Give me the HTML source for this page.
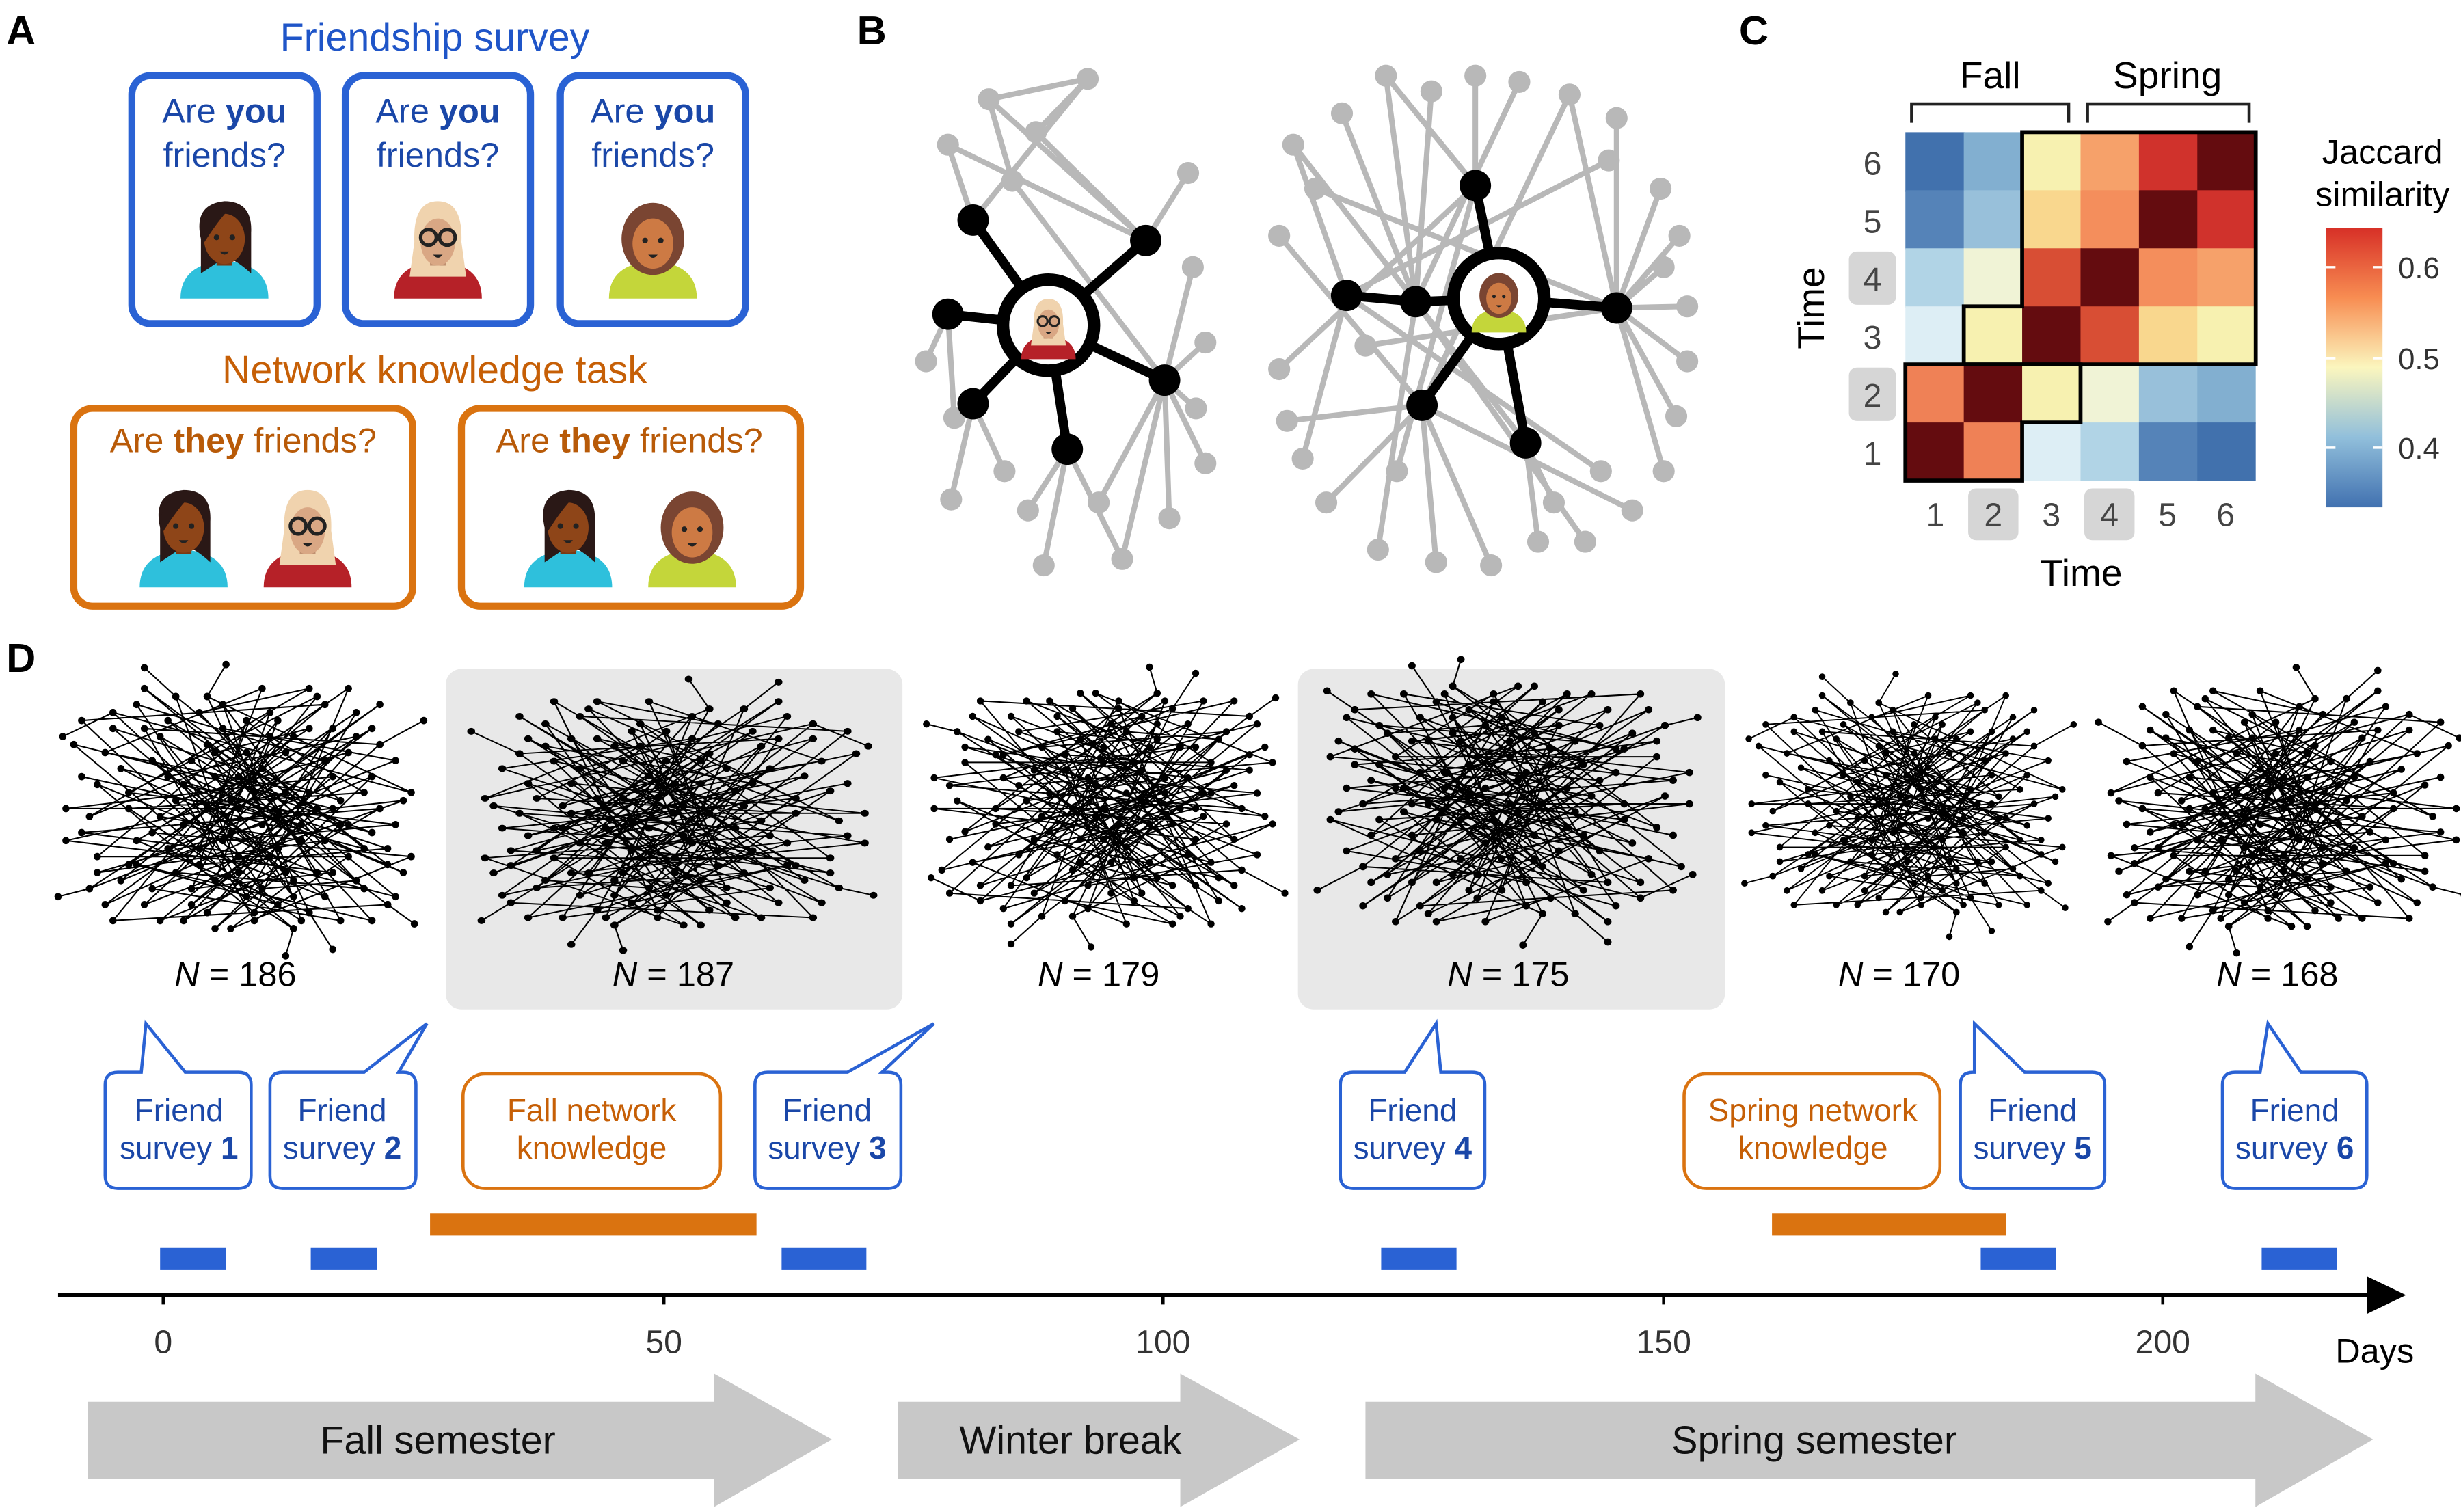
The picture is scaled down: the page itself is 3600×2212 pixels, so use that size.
<!DOCTYPE html>
<html><head><meta charset="utf-8">
<style>
html,body{margin:0;padding:0;background:#fff;}
svg{display:block;font-family:"Liberation Sans",Arial,sans-serif;}
</style></head>
<body>
<svg xmlns="http://www.w3.org/2000/svg" xmlns:xlink="http://www.w3.org/1999/xlink" width="3600" height="2212" viewBox="0 0 1568 963">
<defs>
<g id="fDark">
  <path d="M-28,30 Q-28,8 0,6 Q28,8 28,30 Z" fill="#2ec0dc"/>
  <path d="M-15,-8 Q-20,-30 0,-32 Q18,-32 17,-12 L17,14 Q6,4 0,4 L-15,14 Z" fill="#2a1816"/>
  <rect x="-5" y="0" width="10" height="9" fill="#7a3a14"/>
  <ellipse cx="0" cy="-8" rx="13" ry="16" fill="#8e4518"/>
  <path d="M-15,-12 Q-12,-30 4,-28 Q-4,-20 -14,-4 Z" fill="#2a1816"/>
  <circle cx="-5" cy="-9" r="1.8" fill="#222"/><circle cx="5" cy="-9" r="1.8" fill="#222"/>
  <path d="M-3,0 Q0,4 3,0 Z" fill="#222"/>
</g>
<g id="fBlond">
  <path d="M-28,30 Q-28,8 0,6 Q28,8 28,30 Z" fill="#b62128"/>
  <path d="M-15,-6 Q-16,-32 0,-32 Q16,-32 15,-6 L18,16 L-18,16 Z" fill="#f0d3ae"/>
  <rect x="-5" y="0" width="10" height="9" fill="#c09070"/>
  <ellipse cx="0" cy="-6" rx="11" ry="15" fill="#d9a784"/>
  <circle cx="-6" cy="-9" r="5" fill="none" stroke="#222" stroke-width="2.2"/>
  <circle cx="6" cy="-9" r="5" fill="none" stroke="#222" stroke-width="2.2"/>
  <path d="M-3,2 Q0,6 3,2 Z" fill="#222"/>
</g>
<g id="fCurly">
  <path d="M-28,30 Q-28,8 0,6 Q28,8 28,30 Z" fill="#c4d63a"/>
  <ellipse cx="0" cy="-8" rx="20" ry="23" fill="#7a4532"/>
  <rect x="-5" y="0" width="10" height="9" fill="#b06838"/>
  <ellipse cx="0" cy="-5" rx="13" ry="16" fill="#cd7a44"/>
  <circle cx="-5" cy="-7" r="1.8" fill="#222"/><circle cx="5" cy="-7" r="1.8" fill="#222"/>
  <path d="M-3,2 Q0,6 3,2 Z" fill="#222"/>
</g>
<marker id="dot" markerUnits="userSpaceOnUse" markerWidth="6" markerHeight="6" refX="3" refY="3"><circle cx="3" cy="3" r="2.3" fill="#000"/></marker>
<path id="net" fill="none" stroke="#000" stroke-width="0.9" marker-start="url(#dot)" marker-mid="url(#dot)" marker-end="url(#dot)" d="M-100,-20 L40,10 L-30,60 L90,-40 L-60,-50 L10,70 L70,30 L-90,30 L20,-60 L-10,20 L100,10 L-70,-10 L50,-70 L-40,40 L80,50 L-20,-40 L0,0 L-110,0 L60,-20 L-50,70 L30,40 L-80,-60 L110,-10 L-20,-70 L45,65 L-65,20 L15,-25 L95,35 L-35,-15 L5,55 L75,-60 L-95,50 L25,5 L-45,-55 L65,10 L-15,75 L85,-20 L-75,45 L35,-45 L-5,-5 L105,40 L-55,-30 L55,55 L-25,25 L15,-75 L-85,-35 L45,-10 L-35,70 L90,0 L-100,15 L20,30 L-60,60 L60,-50 L0,40 L-40,-70 L80,25 L-20,0 L30,-35 L-70,35 L100,-30 L-10,-50 L50,40 L-90,-15 L10,65 L70,-75 L-50,5 L40,20 L-30,-30 L95,60 L-80,70 L25,-55 L-15,45 L60,0 L-105,-40 L35,75 L-45,25 L85,-50 L-5,15 L55,-30 L-65,-65 L15,50 L75,45 L-25,-60 L45,-75 L-95,5 L5,-35 L65,70 L-55,50 L105,-5 L-35,10 L25,25 L-75,-25 L85,15 L-15,-20 L35,55 L-50,-45 L10,-10 L90,-65 L-85,60 L50,0 L-20,65 L70,-35 L-40,-5 L0,30 L100,55 L-60,-75 L30,-10 L-110,20 L60,40 L-30,50 L20,-45 L80,-10 L-70,0 L40,70 L-10,-65 L55,20 L-90,40 L15,10 L75,-45 L-45,-20 L95,25 L-25,35 L5,-55 L65,-5 L-80,-50 L35,45 L-5,75 L110,30 L-55,15 L45,-50 L-15,-35 L85,70 L-65,35 L25,60 L-100,-55 L55,-65 L0,-20 L70,10 M-112,-45 L-80,-60 M118,-55 L90,-40 M-60,-88 L-40,-70 M30,92 L35,75 M-115,55 L-95,50 M112,72 L95,60 M-8,-90 L-20,-70 M60,88 L45,65"/>
</defs>

<rect width="1568" height="963" fill="#fff"/>

<!-- Panel A -->
<text x="4" y="28" font-size="26" font-weight="bold">A</text>
<text x="277" y="32" font-size="25" fill="#1f55c8" text-anchor="middle">Friendship survey</text>
<g fill="none" stroke="#2a62d4" stroke-width="4.5">
<rect x="84" y="48" width="118" height="158" rx="12"/>
<rect x="220" y="48" width="118" height="158" rx="12"/>
<rect x="357" y="48" width="118" height="158" rx="12"/>
</g>
<g font-size="22" fill="#1a47a8" text-anchor="middle">
<text x="143" y="78">Are <tspan font-weight="bold">you</tspan></text><text x="143" y="106">friends?</text>
<text x="279" y="78">Are <tspan font-weight="bold">you</tspan></text><text x="279" y="106">friends?</text>
<text x="416" y="78">Are <tspan font-weight="bold">you</tspan></text><text x="416" y="106">friends?</text>
</g>
<use xlink:href="#fDark" href="#fDark" transform="translate(143,160)"/>
<use xlink:href="#fBlond" href="#fBlond" transform="translate(279,160)"/>
<use xlink:href="#fCurly" href="#fCurly" transform="translate(416,160)"/>

<text x="277" y="244" font-size="25" fill="#c65f06" text-anchor="middle">Network knowledge task</text>
<g fill="none" stroke="#da7310" stroke-width="4.5">
<rect x="47" y="260" width="216" height="126" rx="12"/>
<rect x="294" y="260" width="216" height="126" rx="12"/>
</g>
<g font-size="22" fill="#b85a08" text-anchor="middle">
<text x="155" y="288">Are <tspan font-weight="bold">they</tspan> friends?</text>
<text x="401" y="288">Are <tspan font-weight="bold">they</tspan> friends?</text>
</g>
<use xlink:href="#fDark" href="#fDark" transform="translate(117,344)"/>
<use xlink:href="#fBlond" href="#fBlond" transform="translate(196,344)"/>
<use xlink:href="#fDark" href="#fDark" transform="translate(362,344)"/>
<use xlink:href="#fCurly" href="#fCurly" transform="translate(441,344)"/>

<!-- Panel B -->
<text x="546" y="28" font-size="26" font-weight="bold">B</text>
<g stroke="#b8b8b8" stroke-width="3.5">
<path d="M630,63L730,153 M604,92L730,153 M604,92L620,140 M693,50L620,140 M660,84L730,153 M757,110L730,153 M645,115L742,242 M760,170L742,242 M768,218L742,242 M762,260L742,242 M768,295L742,242 M745,330L742,242 M715,356L680,286 M665,360L680,286 M606,318L620,257 M608,266L604,200 M655,325L680,286 M700,320L742,242 M640,300L620,257 M590,230L604,200 M630,63L693,50 M693,50L660,84 M715,356L742,242 M630,63L645,115"/>
<path d="M883,48L940,118 M912,58L902,192 M940,48L940,118 M968,52L902,192 M1000,60L906,258 M1030,75L1030,196 M1025,102L858,188 M855,72L902,192 M824,92L972,282 M838,120L1030,196 M1058,120L1030,196 M1070,150L1030,196 M815,150L906,258 M815,235L940,118 M820,268L906,258 M1075,195L1030,196 M1075,230L1030,196 M1068,265L1030,196 M1060,300L1030,196 M1040,325L906,258 M1010,345L902,192 M980,345L972,282 M950,360L906,258 M915,358L906,258 M878,350L902,192 M845,320L906,258 M830,292L858,188 M1060,170L1030,196 M870,220L1030,196 M890,300L940,118 M990,320L972,282 M1020,300L858,188 M824,92L858,188 M883,48L902,192 M1000,60L1030,196"/>
</g>
<g fill="#b8b8b8">
<circle cx="630" cy="63" r="7"/><circle cx="604" cy="92" r="7"/><circle cx="693" cy="50" r="7"/><circle cx="660" cy="84" r="7"/><circle cx="757" cy="110" r="7"/><circle cx="645" cy="115" r="7"/><circle cx="760" cy="170" r="7"/><circle cx="768" cy="218" r="7"/><circle cx="762" cy="260" r="7"/><circle cx="768" cy="295" r="7"/><circle cx="745" cy="330" r="7"/><circle cx="715" cy="356" r="7"/><circle cx="665" cy="360" r="7"/><circle cx="606" cy="318" r="7"/><circle cx="608" cy="266" r="7"/><circle cx="655" cy="325" r="7"/><circle cx="700" cy="320" r="7"/><circle cx="640" cy="300" r="7"/><circle cx="590" cy="230" r="7"/>
<circle cx="883" cy="48" r="7"/><circle cx="912" cy="58" r="7"/><circle cx="940" cy="48" r="7"/><circle cx="968" cy="52" r="7"/><circle cx="1000" cy="60" r="7"/><circle cx="1030" cy="75" r="7"/><circle cx="1025" cy="102" r="7"/><circle cx="855" cy="72" r="7"/><circle cx="824" cy="92" r="7"/><circle cx="838" cy="120" r="7"/><circle cx="1058" cy="120" r="7"/><circle cx="1070" cy="150" r="7"/><circle cx="815" cy="150" r="7"/><circle cx="815" cy="235" r="7"/><circle cx="820" cy="268" r="7"/><circle cx="1075" cy="195" r="7"/><circle cx="1075" cy="230" r="7"/><circle cx="1068" cy="265" r="7"/><circle cx="1060" cy="300" r="7"/><circle cx="1040" cy="325" r="7"/><circle cx="1010" cy="345" r="7"/><circle cx="980" cy="345" r="7"/><circle cx="950" cy="360" r="7"/><circle cx="915" cy="358" r="7"/><circle cx="878" cy="350" r="7"/><circle cx="845" cy="320" r="7"/><circle cx="830" cy="292" r="7"/><circle cx="1060" cy="170" r="7"/><circle cx="870" cy="220" r="7"/><circle cx="890" cy="300" r="7"/><circle cx="990" cy="320" r="7"/><circle cx="1020" cy="300" r="7"/>
</g>
<g stroke="#000" stroke-width="6">
<path d="M668,207L620,140 M668,207L730,153 M668,207L604,200 M668,207L742,242 M668,207L620,257 M668,207L680,286"/>
<path d="M955,190L940,118 M955,190L902,192 M902,192L858,188 M955,190L1030,196 M955,190L906,258 M955,190L972,282"/>
</g>
<g fill="#000">
<circle cx="620" cy="140" r="10"/><circle cx="730" cy="153" r="10"/><circle cx="604" cy="200" r="10"/><circle cx="742" cy="242" r="10"/><circle cx="620" cy="257" r="10"/><circle cx="680" cy="286" r="10"/>
<circle cx="940" cy="118" r="10"/><circle cx="902" cy="192" r="10"/><circle cx="858" cy="188" r="10"/><circle cx="1030" cy="196" r="10"/><circle cx="906" cy="258" r="10"/><circle cx="972" cy="282" r="10"/>
</g>
<circle cx="668" cy="207" r="29" fill="#fff" stroke="#000" stroke-width="8"/>
<circle cx="955" cy="190" r="29" fill="#fff" stroke="#000" stroke-width="8"/>
<use xlink:href="#fBlond" href="#fBlond" transform="translate(668,210) scale(0.62)"/>
<use xlink:href="#fCurly" href="#fCurly" transform="translate(955,193) scale(0.62)"/>

<!-- Panel C -->
<text x="1108" y="28" font-size="26" font-weight="bold">C</text>
<text x="1268" y="56" font-size="24" text-anchor="middle">Fall</text>
<text x="1381" y="56" font-size="24" text-anchor="middle">Spring</text>
<path d="M1218,78 V66 H1318 V78 M1330,78 V66 H1433 V78" fill="none" stroke="#222" stroke-width="2"/>
<g>
<rect x="1214" y="84" width="38" height="38" fill="#4171ad"/><rect x="1251.2" y="84" width="38" height="38" fill="#82afd0"/><rect x="1288.4" y="84" width="38" height="38" fill="#f7f1b0"/><rect x="1325.6" y="84" width="38" height="38" fill="#f6a16a"/><rect x="1362.8" y="84" width="38" height="38" fill="#d0322c"/><rect x="1400" y="84" width="37.2" height="38" fill="#640c0f"/>
<rect x="1214" y="121" width="38" height="38" fill="#5583b8"/><rect x="1251.2" y="121" width="38" height="38" fill="#98c0da"/><rect x="1288.4" y="121" width="38" height="38" fill="#f9d78e"/><rect x="1325.6" y="121" width="38" height="38" fill="#f48e5c"/><rect x="1362.8" y="121" width="38" height="38" fill="#640c0f"/><rect x="1400" y="121" width="37.2" height="38" fill="#d0322c"/>
<rect x="1214" y="158" width="38" height="38" fill="#b1d4e6"/><rect x="1251.2" y="158" width="38" height="38" fill="#f0f3d6"/><rect x="1288.4" y="158" width="38" height="38" fill="#d84e34"/><rect x="1325.6" y="158" width="38" height="38" fill="#640c0f"/><rect x="1362.8" y="158" width="38" height="38" fill="#f48e5c"/><rect x="1400" y="158" width="37.2" height="38" fill="#f6a16a"/>
<rect x="1214" y="195" width="38" height="38" fill="#ddeef5"/><rect x="1251.2" y="195" width="38" height="38" fill="#f7f1b0"/><rect x="1288.4" y="195" width="38" height="38" fill="#640c0f"/><rect x="1325.6" y="195" width="38" height="38" fill="#d84e34"/><rect x="1362.8" y="195" width="38" height="38" fill="#f9d78e"/><rect x="1400" y="195" width="37.2" height="38" fill="#f7f1b0"/>
<rect x="1214" y="232" width="38" height="38" fill="#ef8156"/><rect x="1251.2" y="232" width="38" height="38" fill="#640c0f"/><rect x="1288.4" y="232" width="38" height="38" fill="#f7f1b0"/><rect x="1325.6" y="232" width="38" height="38" fill="#f0f3d6"/><rect x="1362.8" y="232" width="38" height="38" fill="#98c0da"/><rect x="1400" y="232" width="37.2" height="38" fill="#82afd0"/>
<rect x="1214" y="269" width="38" height="37" fill="#640c0f"/><rect x="1251.2" y="269" width="38" height="37" fill="#ef8156"/><rect x="1288.4" y="269" width="38" height="37" fill="#ddeef5"/><rect x="1325.6" y="269" width="38" height="37" fill="#b1d4e6"/><rect x="1362.8" y="269" width="38" height="37" fill="#5583b8"/><rect x="1400" y="269" width="37.2" height="37" fill="#4171ad"/>
</g>
<path d="M1214,306 H1288.4 V269 H1325.6 V232 H1214 Z" fill="none" stroke="#000" stroke-width="2.5"/>
<path d="M1288.4,84 H1437.2 V232 H1251.2 V195 H1288.4 Z" fill="none" stroke="#000" stroke-width="2.5"/>
<g font-size="21" fill="#444" text-anchor="middle">
<rect x="1178" y="160" width="30" height="34" rx="5" fill="#d6d6d6"/>
<rect x="1178" y="234" width="30" height="34" rx="5" fill="#d6d6d6"/>
<text x="1193" y="111">6</text><text x="1193" y="148">5</text><text x="1193" y="185">4</text>
<text x="1193" y="222">3</text><text x="1193" y="259">2</text><text x="1193" y="296">1</text>
<rect x="1254" y="311" width="32" height="33" rx="5" fill="#d6d6d6"/>
<rect x="1328" y="311" width="32" height="33" rx="5" fill="#d6d6d6"/>
<text x="1233" y="335">1</text><text x="1270" y="335">2</text><text x="1307" y="335">3</text>
<text x="1344" y="335">4</text><text x="1381" y="335">5</text><text x="1418" y="335">6</text>
</g>
<text x="1326" y="373" font-size="24" text-anchor="middle">Time</text>
<text transform="translate(1162,196) rotate(-90)" font-size="24" text-anchor="middle">Time</text>
<linearGradient id="cb" x1="0" y1="0" x2="0" y2="1">
<stop offset="0" stop-color="#d73027"/><stop offset="0.25" stop-color="#f88d52"/>
<stop offset="0.5" stop-color="#fbf6be"/><stop offset="0.75" stop-color="#91bfdb"/>
<stop offset="1" stop-color="#4171b0"/>
</linearGradient>
<rect x="1482" y="145" width="36" height="178" fill="url(#cb)"/>
<g stroke="#fff" stroke-width="1.5"><path d="M1482,170h6M1512,170h6M1482,228h6M1512,228h6M1482,285h6M1512,285h6"/></g>
<g font-size="19" fill="#333"><text x="1528" y="177">0.6</text><text x="1528" y="235">0.5</text><text x="1528" y="292">0.4</text></g>
<text x="1518" y="104" font-size="22" text-anchor="middle">Jaccard</text>
<text x="1518" y="131" font-size="22" text-anchor="middle">similarity</text>

<!-- Panel D -->
<text x="4" y="428" font-size="26" font-weight="bold">D</text>
<rect x="284" y="426" width="291" height="217" rx="10" fill="#e8e8e8"/>
<rect x="827" y="426" width="272" height="217" rx="10" fill="#e8e8e8"/>
<use xlink:href="#net" href="#net" transform="translate(152,515) scale(1.0,1.02)"/>
<use xlink:href="#net" href="#net" transform="translate(430,518) scale(-1.1,0.95)"/>
<use xlink:href="#net" href="#net" transform="translate(703,515) scale(0.98,-0.98)"/>
<use xlink:href="#net" href="#net" transform="translate(962,512) scale(-1.04,-1.0)"/>
<use xlink:href="#net" href="#net" transform="translate(1215,512) scale(0.9,0.92)"/>
<use xlink:href="#net" href="#net" transform="translate(1455,515) scale(-1.0,1.0)"/>
<g font-size="22" text-anchor="middle">
<text x="150" y="628"><tspan font-style="italic">N</tspan> = 186</text>
<text x="429" y="628"><tspan font-style="italic">N</tspan> = 187</text>
<text x="700" y="628"><tspan font-style="italic">N</tspan> = 179</text>
<text x="961" y="628"><tspan font-style="italic">N</tspan> = 175</text>
<text x="1210" y="628"><tspan font-style="italic">N</tspan> = 170</text>
<text x="1451" y="628"><tspan font-style="italic">N</tspan> = 168</text>
</g>

<!-- callouts -->
<g fill="#fff" stroke="#2a62d4" stroke-width="2">
<path d="M67,691 Q67,683 75,683 H90 L93,652 L118,683 H152 Q160,683 160,691 V749 Q160,757 152,757 H75 Q67,757 67,749 Z"/>
<path d="M172,691 Q172,683 180,683 H232 L272,652 L254,683 H257 Q265,683 265,691 V749 Q265,757 257,757 H180 Q172,757 172,749 Z"/>
<path d="M481,691 Q481,683 489,683 H540 L595,652 L562,683 H566 Q574,683 574,691 V749 Q574,757 566,757 H489 Q481,757 481,749 Z"/>
<path d="M854,691 Q854,683 862,683 H895 L915,652 L918,683 H938 Q946,683 946,691 V749 Q946,757 938,757 H862 Q854,757 854,749 Z"/>
<path d="M1249,691 Q1249,683 1257,683 H1258 L1258,652 L1290,683 H1333 Q1341,683 1341,691 V749 Q1341,757 1333,757 H1257 Q1249,757 1249,749 Z"/>
<path d="M1416,691 Q1416,683 1424,683 H1440 L1445,652 L1466,683 H1500 Q1508,683 1508,691 V749 Q1508,757 1500,757 H1424 Q1416,757 1416,749 Z"/>
</g>
<g fill="#fff" stroke="#da7310" stroke-width="2">
<rect x="295" y="684" width="164" height="73" rx="14"/>
<rect x="1073" y="684" width="163" height="73" rx="14"/>
</g>
<g font-size="20" fill="#1a47a8" text-anchor="middle">
<text x="114" y="714">Friend</text><text x="114" y="738">survey <tspan font-weight="bold">1</tspan></text>
<text x="218" y="714">Friend</text><text x="218" y="738">survey <tspan font-weight="bold">2</tspan></text>
<text x="527" y="714">Friend</text><text x="527" y="738">survey <tspan font-weight="bold">3</tspan></text>
<text x="900" y="714">Friend</text><text x="900" y="738">survey <tspan font-weight="bold">4</tspan></text>
<text x="1295" y="714">Friend</text><text x="1295" y="738">survey <tspan font-weight="bold">5</tspan></text>
<text x="1462" y="714">Friend</text><text x="1462" y="738">survey <tspan font-weight="bold">6</tspan></text>
</g>
<g font-size="20" fill="#c65f06" text-anchor="middle">
<text x="377" y="714">Fall network</text><text x="377" y="738">knowledge</text>
<text x="1155" y="714">Spring network</text><text x="1155" y="738">knowledge</text>
</g>

<!-- bars -->
<g fill="#2a62d4">
<rect x="102" y="795" width="42" height="14"/><rect x="198" y="795" width="42" height="14"/>
<rect x="498" y="795" width="54" height="14"/><rect x="880" y="795" width="48" height="14"/>
<rect x="1262" y="795" width="48" height="14"/><rect x="1441" y="795" width="48" height="14"/>
</g>
<g fill="#da7310">
<rect x="274" y="773" width="208" height="14"/><rect x="1129" y="773" width="149" height="14"/>
</g>

<!-- axis -->
<line x1="37" y1="825" x2="1512" y2="825" stroke="#000" stroke-width="2.5"/>
<path d="M1508,813 L1533,825 L1508,837 Z" fill="#000"/>
<g stroke="#000" stroke-width="2"><path d="M104,825v6M423,825v6M741,825v6M1060,825v6M1378,825v6"/></g>
<g font-size="21" fill="#333" text-anchor="middle">
<text x="104" y="862">0</text><text x="423" y="862">50</text><text x="741" y="862">100</text>
<text x="1060" y="862">150</text><text x="1378" y="862">200</text>
</g>
<text x="1513" y="868" font-size="22" text-anchor="middle">Days</text>

<g fill="#c8c8c8">
<path d="M56,893 H455 V875 L530,917 L455,960 V942 H56 Z"/>
<path d="M572,893 H752 V875 L828,917 L752,960 V942 H572 Z"/>
<path d="M870,893 H1437 V875 L1512,917 L1437,960 V942 H870 Z"/>
</g>
<g font-size="25" text-anchor="middle" fill="#111">
<text x="279" y="926">Fall semester</text>
<text x="682" y="926">Winter break</text>
<text x="1156" y="926">Spring semester</text>
</g>
</svg>
</body></html>
